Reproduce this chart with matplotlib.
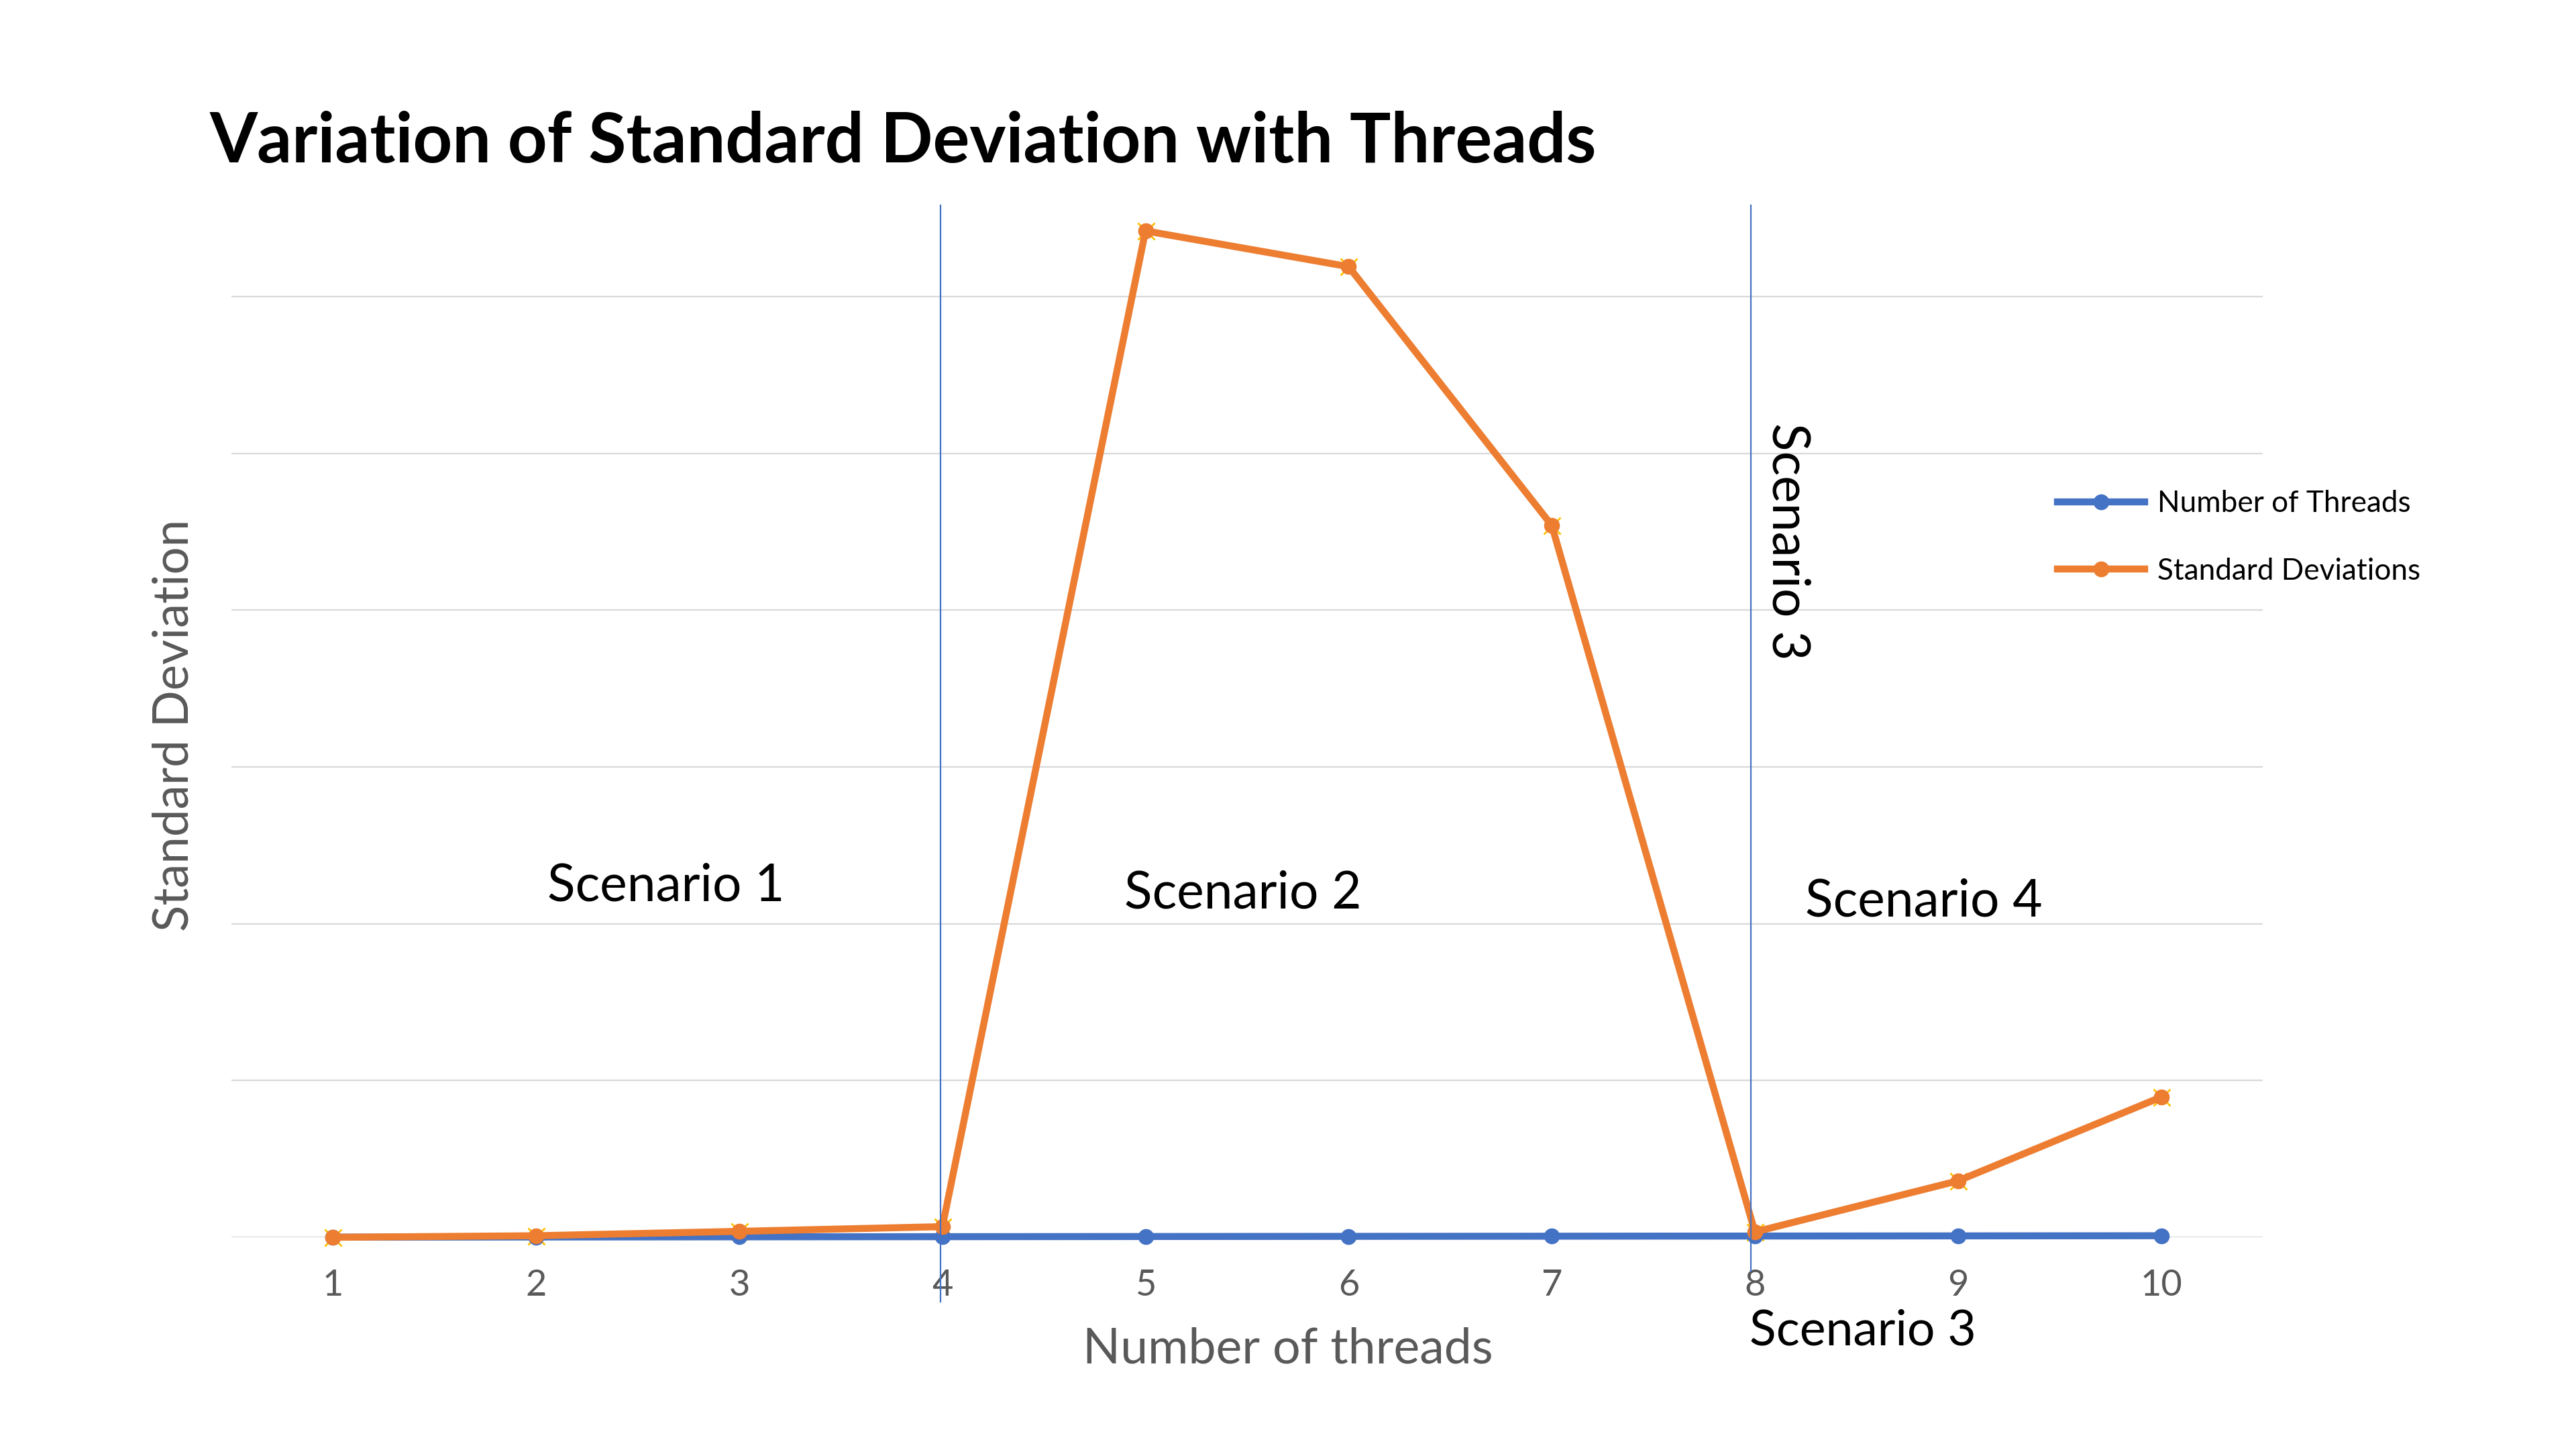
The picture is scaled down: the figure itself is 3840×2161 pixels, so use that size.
import matplotlib
matplotlib.use('Agg')
import matplotlib.pyplot as plt
from matplotlib.lines import Line2D

# ---------------- data ----------------
threads = [1, 2, 3, 4, 5, 6, 7, 8, 9, 10]
x_tick_labels = ['1', '2', '3', '4', '5', '6', '7', '8', '9', '10']
number_of_threads = [1, 2, 3, 4, 5, 6, 7, 8, 9, 10]
standard_deviations = [0, 10, 38, 68, 6418, 6190, 4540, 34, 360, 894]
hidden_zero_series = [0, 0, 0, 0, 0, 0, 0, 0, 0, 0]
scenario_boundaries = [3.99, 7.98]
grid_values = [0, 1000, 2000, 3000, 4000, 5000, 6000]

BLUE = '#4472C4'
ORANGE = '#ED7D31'
GRAY = '#A5A5A5'
YELLOW = '#FFC000'
TXT_GRAY = '#595959'
FONT = 'Lato'

W, H = 3841, 2161
fig = plt.figure(figsize=(W / 100, H / 100), dpi=100)
renderer = fig.canvas.get_renderer()
PX = 100 / 72.0  # px per point


def fit(t, target, vertical=False):
    bb = t.get_window_extent(renderer)
    cur = t.get_fontsize()
    size = bb.height if vertical else bb.width
    t.set_fontsize(cur * target / size)
    return t.get_fontsize()


ax = fig.add_axes([345 / W, 1 - 1844 / H, (3373 - 345) / W, 6.7 * 233.7 / H])
ax.set_xlim(0.5, 10.5)
ax.set_ylim(0, 6700)

for s in ax.spines.values():
    s.set_visible(False)
ax.set_yticks(grid_values)
ax.set_yticklabels([])
ax.tick_params(axis='y', length=0)
ax.grid(axis='y', color='#D9D9D9', linewidth=1.6)
ax.set_axisbelow(True)

ax.set_xticks(threads)
ax.set_xticklabels(x_tick_labels)
ax.tick_params(axis='x', length=0, pad=34, labelcolor=TXT_GRAY, labelsize=39)
for lab in ax.get_xticklabels():
    lab.set_family(FONT)

# hidden series markers (gray triangles, yellow x)
ax.plot(threads, hidden_zero_series, linestyle='none', marker='^', markersize=10,
        color=GRAY, zorder=2, clip_on=False)
ax.plot(threads, standard_deviations, linestyle='none', marker='x', markersize=18,
        markeredgewidth=2, color=YELLOW, zorder=2, clip_on=False)

# main series
ax.plot(threads, number_of_threads, color=BLUE, linewidth=7.5, marker='o',
        markersize=16, zorder=3, clip_on=False, solid_capstyle='round')
ax.plot(threads, standard_deviations, color=ORANGE, linewidth=7.5, marker='o',
        markersize=16, zorder=4, clip_on=False, solid_capstyle='round')

# scenario boundary lines
ax.plot([scenario_boundaries[0]] * 2, [-410, 6580], color=BLUE, linewidth=1.6,
        zorder=5, clip_on=False)
ax.plot([scenario_boundaries[1]] * 2, [-220, 6580], color=BLUE, linewidth=1.6,
        zorder=5, clip_on=False)

# scenario texts
sc_kw = dict(family=FONT, color='black', ha='center', va='center', fontsize=50, zorder=6)
t1 = ax.text(2.64, 2240, 'Scenario 1', **sc_kw)
fs = fit(t1, 353)
sc_kw['fontsize'] = fs
ax.text(5.48, 2190, 'Scenario 2', **sc_kw)
ax.text(8.83, 2140, 'Scenario 4', **sc_kw)
ax.text(8.16, 4440, 'Scenario 3', rotation=270, **sc_kw)
tb = ax.text(8.53, -600, 'Scenario 3', clip_on=False, **sc_kw)
fit(tb, 338)

# title
tt = fig.text(313 / W, 1 - 212 / H, 'Variation of Standard Deviation with Threads',
              family=FONT, weight='bold', color='black', ha='left', va='center',
              fontsize=70)
fit(tt, 2070)

# axis labels
yl = fig.text(260 / W, 1 - 1081 / H, 'Standard Deviation', rotation=90, family=FONT,
              color=TXT_GRAY, ha='center', va='center', fontsize=45)
fit(yl, 615, vertical=True)
xl = fig.text(1920 / W, 1 - 2011 / H, 'Number of threads', family=FONT,
              color=TXT_GRAY, ha='center', va='center', fontsize=45)
fit(xl, 612)

# legend
tmp = fig.text(0, 0, 'Number of Threads', family=FONT, fontsize=30)
lfs = fit(tmp, 377)
tmp.remove()
lfs_px = lfs * PX
handles = [
    Line2D([], [], color=BLUE, linewidth=7.5, marker='o', markersize=16),
    Line2D([], [], color=ORANGE, linewidth=7.5, marker='o', markersize=16),
]
leg = fig.legend(handles, ['Number of Threads', 'Standard Deviations'],
                 loc='center left', bbox_to_anchor=(3067 / W, 1 - 801 / H),
                 frameon=False, borderpad=0, borderaxespad=0,
                 prop={'family': FONT, 'size': lfs},
                 handlelength=130 / lfs_px, handletextpad=19 / lfs_px,
                 labelspacing=(98 - 0.88 * lfs_px) / lfs_px)

fig.savefig('out.png', dpi=100)
